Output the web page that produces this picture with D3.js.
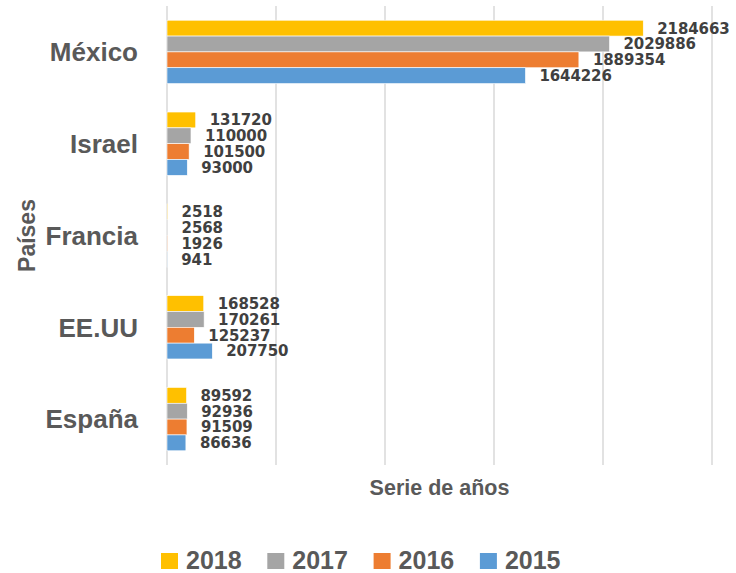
<!DOCTYPE html>
<html lang="es">
<head>
<meta charset="utf-8">
<title>Países - Serie de años</title>
<script src="https://d3js.org/d3.v7.min.js"></script>
<style>
  body { margin: 0; background: #fff; }
  svg { display: block; }
  .cat-label { font-family: "Liberation Sans", Arial, sans-serif; font-weight: bold; font-size: 26px; fill: #595959; }
  .val-label { font-family: "DejaVu Sans", sans-serif; font-weight: bold; font-size: 15px; fill: #404040; letter-spacing: -0.1px; }
  .axis-title { font-family: "Liberation Sans", Arial, sans-serif; font-weight: bold; fill: #595959; }
  .legend text { font-family: "Liberation Sans", Arial, sans-serif; font-weight: bold; font-size: 25px; fill: #595959; }
</style>
</head>
<body>
<svg id="chart" width="736" height="573"></svg>
<script>
// categories, top to bottom
const countries = ["México", "Israel", "Francia", "EE.UU", "España"];
// series (year order inside each group, top to bottom)
const years = ["2018", "2017", "2016", "2015"];
const colors = ["#FFC000", "#A5A5A5", "#ED7D31", "#5B9BD5"];

const v2018 = [2184663, 131720, 2518, 168528, 89592];
const v2017 = [2029886, 110000, 2568, 170261, 92936];
const v2016 = [1889354, 101500, 1926, 125237, 91509];
const v2015 = [1644226, 93000, 941, 207750, 86636];
const seriesValues = [v2018, v2017, v2016, v2015];

const gridTicks = [0, 500000, 1000000, 1500000, 2000000, 2500000];

// plot area
const plot = { left: 167, right: 712, top: 6, bottom: 465 };

const svg = d3.select("#chart");

const x = d3.scaleLinear()
  .domain([0, 2500000])
  .range([plot.left, plot.right]);

const y = d3.scaleBand()
  .domain(countries)
  .range([plot.top, plot.bottom])
  .paddingInner(0.31)
  .paddingOuter(0.155);

const ySub = d3.scaleBand()
  .domain(years)
  .range([0, y.bandwidth()]);

// vertical gridlines
svg.append("g")
  .selectAll("line")
  .data(gridTicks)
  .join("line")
  .attr("x1", d => x(d))
  .attr("x2", d => x(d))
  .attr("y1", plot.top)
  .attr("y2", plot.bottom)
  .attr("stroke", "#d9d9d9")
  .attr("stroke-width", 1.5);

// build rows
const rows = [];
countries.forEach((c, i) => {
  years.forEach((yr, j) => {
    rows.push({ country: c, year: yr, value: seriesValues[j][i], color: colors[j] });
  });
});

// bars
svg.append("g")
  .selectAll("rect")
  .data(rows)
  .join("rect")
  .attr("x", x(0))
  .attr("y", d => y(d.country) + ySub(d.year))
  .attr("width", d => x(d.value) - x(0))
  .attr("height", ySub.bandwidth())
  .attr("fill", d => d.color)
  .attr("stroke", "#fff")
  .attr("stroke-width", 0.6);

// value labels
svg.append("g")
  .selectAll("text")
  .data(rows)
  .join("text")
  .attr("class", "val-label")
  .attr("x", d => x(d.value) + 14)
  .attr("y", d => y(d.country) + ySub(d.year) + ySub.bandwidth() / 2)
  .attr("dy", "0.36em")
  .text(d => d.value);

// category labels
svg.append("g")
  .selectAll("text")
  .data(countries)
  .join("text")
  .attr("class", "cat-label")
  .attr("x", 138)
  .attr("y", d => y(d) + y.bandwidth() / 2)
  .attr("dy", "0.36em")
  .attr("text-anchor", "end")
  .text(d => d);

// axis titles
svg.append("text")
  .attr("class", "axis-title")
  .attr("transform", `translate(35,${(plot.top + plot.bottom) / 2}) rotate(-90)`)
  .attr("text-anchor", "middle")
  .style("font-size", "23px")
  .text("Países");

svg.append("text")
  .attr("class", "axis-title")
  .attr("x", (plot.left + plot.right) / 2)
  .attr("y", 495)
  .attr("text-anchor", "middle")
  .style("font-size", "21.5px")
  .text("Serie de años");

// legend
const legend = svg.append("g")
  .attr("class", "legend")
  .selectAll("g")
  .data(years)
  .join("g")
  .attr("transform", (d, i) => `translate(${161 + i * 106.3},553)`);

legend.append("rect")
  .attr("width", 17)
  .attr("height", 16)
  .attr("fill", (d, i) => colors[i]);

legend.append("text")
  .attr("x", 25)
  .attr("y", 16)
  .text(d => d);
</script>
</body>
</html>
